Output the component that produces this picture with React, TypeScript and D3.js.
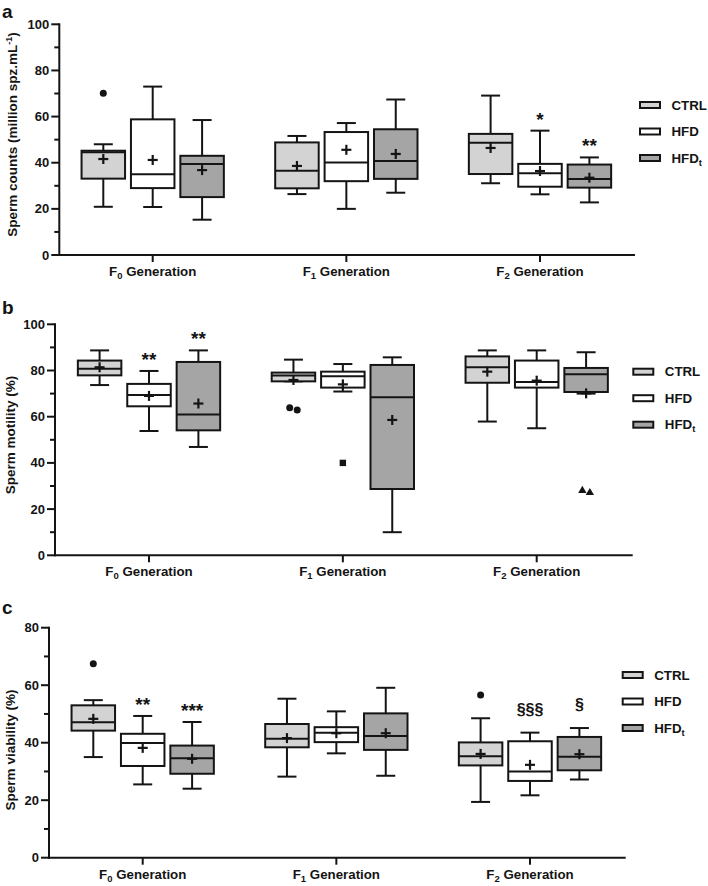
import React from 'react';
import * as d3 from 'd3';

type Box = { min: number; q1: number; med: number; q3: number; max: number; mean: number };
type Outlier = { gen: number; group: number; value: number; shape: string };
type Sig = { gen: number; group: number; label: string };

const generations = ['F0', 'F1', 'F2'];
const genSub = ['0', '1', '2'];
const groups = ['CTRL', 'HFD', 'HFDt'];
const groupFill = ['#d3d3d3', '#ffffff', '#a5a5a5'];

// Panel a: sperm counts (rows: F0, F1, F2)
const countsCTRL: Box[] = [
  { min: 20.9, q1: 33.1, med: 44.5, q3: 45.2, max: 48.0, mean: 41.6 },
  { min: 26.4, q1: 28.9, med: 36.5, q3: 48.8, max: 51.6, mean: 38.6 },
  { min: 31.1, q1: 35.1, med: 48.7, q3: 52.5, max: 69.1, mean: 46.4 },
];
const countsHFD: Box[] = [
  { min: 20.8, q1: 29.0, med: 35.0, q3: 58.8, max: 73.0, mean: 41.2 },
  { min: 20.0, q1: 32.0, med: 40.1, q3: 53.3, max: 57.2, mean: 45.6 },
  { min: 26.3, q1: 29.6, med: 35.4, q3: 39.5, max: 53.9, mean: 36.4 },
];
const countsHFDt: Box[] = [
  { min: 15.3, q1: 25.1, med: 39.4, q3: 43.0, max: 58.5, mean: 36.8 },
  { min: 27.0, q1: 33.0, med: 40.7, q3: 54.5, max: 67.4, mean: 43.8 },
  { min: 22.8, q1: 29.2, med: 32.9, q3: 39.2, max: 42.3, mean: 33.5 },
];
const countsOutliers: Outlier[] = [{ gen: 0, group: 0, value: 70.1, shape: 'circle' }];
const countsSig: Sig[] = [
  { gen: 2, group: 1, label: '*' },
  { gen: 2, group: 2, label: '**' },
];

// Panel b: sperm motility (%)
const motilityCTRL: Box[] = [
  { min: 73.7, q1: 77.9, med: 80.8, q3: 84.3, max: 88.7, mean: 81.4 },
  { min: 75.3, q1: 75.3, med: 77.8, q3: 79.1, max: 84.7, mean: 75.9 },
  { min: 57.9, q1: 74.7, med: 81.4, q3: 86.1, max: 88.7, mean: 79.5 },
];
const motilityHFD: Box[] = [
  { min: 53.8, q1: 64.5, med: 69.4, q3: 74.2, max: 79.8, mean: 69.0 },
  { min: 70.9, q1: 72.6, med: 77.5, q3: 79.5, max: 82.8, mean: 74.0 },
  { min: 55.0, q1: 72.6, med: 75.0, q3: 84.3, max: 88.7, mean: 75.6 },
];
const motilityHFDt: Box[] = [
  { min: 46.9, q1: 54.1, med: 60.9, q3: 83.7, max: 88.7, mean: 65.7 },
  { min: 10.0, q1: 28.7, med: 68.4, q3: 82.4, max: 85.7, mean: 58.6 },
  { min: 70.0, q1: 70.7, med: 78.4, q3: 81.1, max: 87.9, mean: 70.1 },
];
const motilityOutliers: Outlier[] = [
  { gen: 1, group: 0, value: 63.9, shape: 'circle' },
  { gen: 1, group: 0, value: 62.9, shape: 'circle' },
  { gen: 1, group: 1, value: 40.0, shape: 'square' },
  { gen: 2, group: 2, value: 28.0, shape: 'triangle' },
  { gen: 2, group: 2, value: 27.1, shape: 'triangle' },
];
const motilitySig: Sig[] = [
  { gen: 0, group: 1, label: '**' },
  { gen: 0, group: 2, label: '**' },
];

// Panel c: sperm viability (%)
const viabilityCTRL: Box[] = [
  { min: 35.0, q1: 44.2, med: 47.1, q3: 53.0, max: 54.8, mean: 48.3 },
  { min: 28.2, q1: 38.4, med: 41.4, q3: 46.5, max: 55.3, mean: 41.6 },
  { min: 19.4, q1: 32.1, med: 35.3, q3: 40.1, max: 48.5, mean: 36.1 },
];
const viabilityHFD: Box[] = [
  { min: 25.5, q1: 31.9, med: 39.9, q3: 43.1, max: 49.3, mean: 38.2 },
  { min: 36.3, q1: 40.2, med: 43.5, q3: 45.4, max: 50.9, mean: 43.3 },
  { min: 21.7, q1: 26.7, med: 30.0, q3: 40.5, max: 43.5, mean: 32.3 },
];
const viabilityHFDt: Box[] = [
  { min: 24.0, q1: 29.2, med: 34.6, q3: 39.0, max: 47.2, mean: 34.4 },
  { min: 28.5, q1: 37.5, med: 42.3, q3: 50.2, max: 59.1, mean: 43.3 },
  { min: 27.2, q1: 30.4, med: 35.1, q3: 42.0, max: 45.1, mean: 36.0 },
];
const viabilityOutliers: Outlier[] = [
  { gen: 0, group: 0, value: 67.5, shape: 'circle' },
  { gen: 2, group: 0, value: 56.6, shape: 'circle' },
];
const viabilitySig: Sig[] = [
  { gen: 0, group: 1, label: '**' },
  { gen: 0, group: 2, label: '***' },
  { gen: 2, group: 1, label: '§§§' },
  { gen: 2, group: 2, label: '§' },
];

const yMaxes = [100, 100, 80];
const yTickStep = 20;

// layout (styling) for each panel
const layouts = [
  { letter: 'a', letterY: 17.5, axisX: 59.3, axisEnd: 635, yTop: 24.3, yBottom: 255, c0: 152.7, c2: 540, yLabelX: 16.7, yLabelY: 134.5, legendX: 640, legendY: 105 },
  { letter: 'b', letterY: 314, axisX: 55, axisEnd: 632.7, yTop: 324.3, yBottom: 555.3, c0: 149, c2: 536.7, yLabelX: 14.7, yLabelY: 435, legendX: 633.3, legendY: 371.7 },
  { letter: 'c', letterY: 614, axisX: 49, axisEnd: 625.7, yTop: 627.7, yBottom: 857.7, c0: 142.7, c2: 530, yLabelX: 14.7, yLabelY: 750, legendX: 622.7, legendY: 675 },
];

const FONT = '"Liberation Sans", Arial, Helvetica, sans-serif';
const INK = '#141414';
const BOX_W = 43.5;
const GROUP_STEP = 49.4;
const CAP_W = 19;
const SW = 2;

function Panel({ idx, boxes, outliers, sigs }: { idx: number; boxes: Box[][]; outliers: Outlier[]; sigs: Sig[] }) {
  const L = layouts[idx];
  const yMax = yMaxes[idx];
  const y = d3.scaleLinear().domain([0, yMax]).range([L.yBottom, L.yTop]);
  const x = d3.scalePoint<string>().domain(generations).range([L.c0, L.c2]);
  const majorTicks = d3.range(0, yMax + 0.001, yTickStep);
  const minorTicks = d3.range(yTickStep / 2, yMax, yTickStep);
  const bx = (gen: number, group: number) => (x(generations[gen]) as number) + (group - 1) * GROUP_STEP;

  const yLabel =
    idx === 0 ? (
      <>
        Sperm counts (million spz.mL
        <tspan dy={-5} fontSize={9}>-1</tspan>
        <tspan dy={5}>)</tspan>
      </>
    ) : idx === 1 ? (
      'Sperm motility (%)'
    ) : (
      'Sperm viability (%)'
    );

  const outlierCounts: Record<string, number> = {};
  outliers.forEach((o) => {
    const k = `${o.gen}-${o.group}`;
    outlierCounts[k] = (outlierCounts[k] || 0) + 1;
  });
  const outlierSeen: Record<string, number> = {};

  return (
    <g>
      <text x={2} y={L.letterY} fontSize={19} fontWeight="bold" fontFamily={FONT} fill={INK}>
        {L.letter}
      </text>
      {/* y axis */}
      <line x1={L.axisX} x2={L.axisX} y1={L.yTop - 1} y2={L.yBottom + 1} stroke={INK} strokeWidth={SW} />
      {majorTicks.map((t) => (
        <g key={'M' + t}>
          <line x1={L.axisX - 8} x2={L.axisX} y1={y(t)} y2={y(t)} stroke={INK} strokeWidth={SW} />
          <text x={L.axisX - 10} y={y(t)} dy="0.35em" textAnchor="end" fontSize={13} fontWeight="bold" fontFamily={FONT} fill={INK}>
            {t}
          </text>
        </g>
      ))}
      {minorTicks.map((t) => (
        <line key={'m' + t} x1={L.axisX - 5} x2={L.axisX} y1={y(t)} y2={y(t)} stroke={INK} strokeWidth={SW} />
      ))}
      <text
        transform={`translate(${L.yLabelX},${L.yLabelY}) rotate(-90)`}
        textAnchor="middle"
        fontSize={13.5}
        fontWeight="bold"
        fontFamily={FONT}
        fill={INK}
      >
        {yLabel}
      </text>
      {/* x axis */}
      <line x1={L.axisX - 1} x2={L.axisEnd} y1={L.yBottom} y2={L.yBottom} stroke={INK} strokeWidth={SW} />
      {generations.map((g, i) => (
        <g key={g}>
          <line x1={x(g)} x2={x(g)} y1={L.yBottom} y2={L.yBottom + 7} stroke={INK} strokeWidth={SW} />
          <text x={x(g)} y={L.yBottom + 21} textAnchor="middle" fontSize={13.3} fontWeight="bold" fontFamily={FONT} fill={INK}>
            F<tspan dy={3} fontSize={9.5}>{genSub[i]}</tspan>
            <tspan dy={-3}> Generation</tspan>
          </text>
        </g>
      ))}
      {/* boxes */}
      {boxes.map((rows, group) =>
        rows.map((b, gen) => {
          const cx = bx(gen, group);
          return (
            <g key={`${group}-${gen}`}>
              <line x1={cx} x2={cx} y1={y(b.max)} y2={y(b.q3)} stroke={INK} strokeWidth={SW} />
              <line x1={cx} x2={cx} y1={y(b.q1)} y2={y(b.min)} stroke={INK} strokeWidth={SW} />
              <line x1={cx - CAP_W / 2} x2={cx + CAP_W / 2} y1={y(b.max)} y2={y(b.max)} stroke={INK} strokeWidth={SW} />
              <line x1={cx - CAP_W / 2} x2={cx + CAP_W / 2} y1={y(b.min)} y2={y(b.min)} stroke={INK} strokeWidth={SW} />
              <rect
                x={cx - BOX_W / 2}
                y={y(b.q3)}
                width={BOX_W}
                height={Math.max(0.5, y(b.q1) - y(b.q3))}
                fill={groupFill[group]}
                stroke={INK}
                strokeWidth={SW}
              />
              <line x1={cx - BOX_W / 2} x2={cx + BOX_W / 2} y1={y(b.med)} y2={y(b.med)} stroke={INK} strokeWidth={SW} />
              <line x1={cx - 5} x2={cx + 5} y1={y(b.mean)} y2={y(b.mean)} stroke={INK} strokeWidth={2.2} />
              <line x1={cx} x2={cx} y1={y(b.mean) - 5} y2={y(b.mean) + 5} stroke={INK} strokeWidth={2.2} />
            </g>
          );
        })
      )}
      {/* outliers */}
      {outliers.map((o, i) => {
        const k = `${o.gen}-${o.group}`;
        const n = outlierCounts[k];
        const j = outlierSeen[k] || 0;
        outlierSeen[k] = j + 1;
        const cx = bx(o.gen, o.group) + (n > 1 ? (j - (n - 1) / 2) * 7.5 : 0);
        const cy = y(o.value);
        if (o.shape === 'square') return <rect key={i} x={cx - 3.2} y={cy - 3.2} width={6.4} height={6.4} fill={INK} />;
        if (o.shape === 'triangle') {
          const tri = d3.symbol().type(d3.symbolTriangle).size(30)();
          return <path key={i} d={tri as string} transform={`translate(${cx},${cy})`} fill={INK} />;
        }
        return <circle key={i} cx={cx} cy={cy} r={3.5} fill={INK} />;
      })}
      {/* significance */}
      {sigs.map((s, i) => {
        const b = boxes[s.group][s.gen];
        const isSect = s.label.includes('§');
        return (
          <text
            key={i}
            x={bx(s.gen, s.group)}
            y={y(b.max) - (isSect ? 18 : 5)}
            textAnchor="middle"
            fontSize={isSect ? 16 : 19}
            fontWeight="bold"
            fontFamily={FONT}
            fill={INK}
          >
            {s.label}
          </text>
        );
      })}
      {/* legend */}
      {groups.map((g, i) => {
        const ly = L.legendY + i * 26.5;
        return (
          <g key={g}>
            <rect x={L.legendX} y={ly - 3} width={20} height={6} fill={groupFill[i]} stroke={INK} strokeWidth={SW} />
            <text x={L.legendX + 31.5} y={ly} dy="0.36em" fontSize={13.3} fontWeight="bold" fontFamily={FONT} fill={INK}>
              {g === 'HFDt' ? (
                <>
                  HFD<tspan dy={3} fontSize={9.5}>t</tspan>
                </>
              ) : (
                g
              )}
            </text>
          </g>
        );
      })}
    </g>
  );
}

export default function App() {
  return (
    <svg
      width={708}
      height={886}
      viewBox="0 0 708 886"
      style={{ position: 'absolute', left: 0, top: 0, background: '#fff' }}
    >
      <rect width={708} height={886} fill="#fff" />
      <Panel idx={0} boxes={[countsCTRL, countsHFD, countsHFDt]} outliers={countsOutliers} sigs={countsSig} />
      <Panel idx={1} boxes={[motilityCTRL, motilityHFD, motilityHFDt]} outliers={motilityOutliers} sigs={motilitySig} />
      <Panel idx={2} boxes={[viabilityCTRL, viabilityHFD, viabilityHFDt]} outliers={viabilityOutliers} sigs={viabilitySig} />
    </svg>
  );
}
